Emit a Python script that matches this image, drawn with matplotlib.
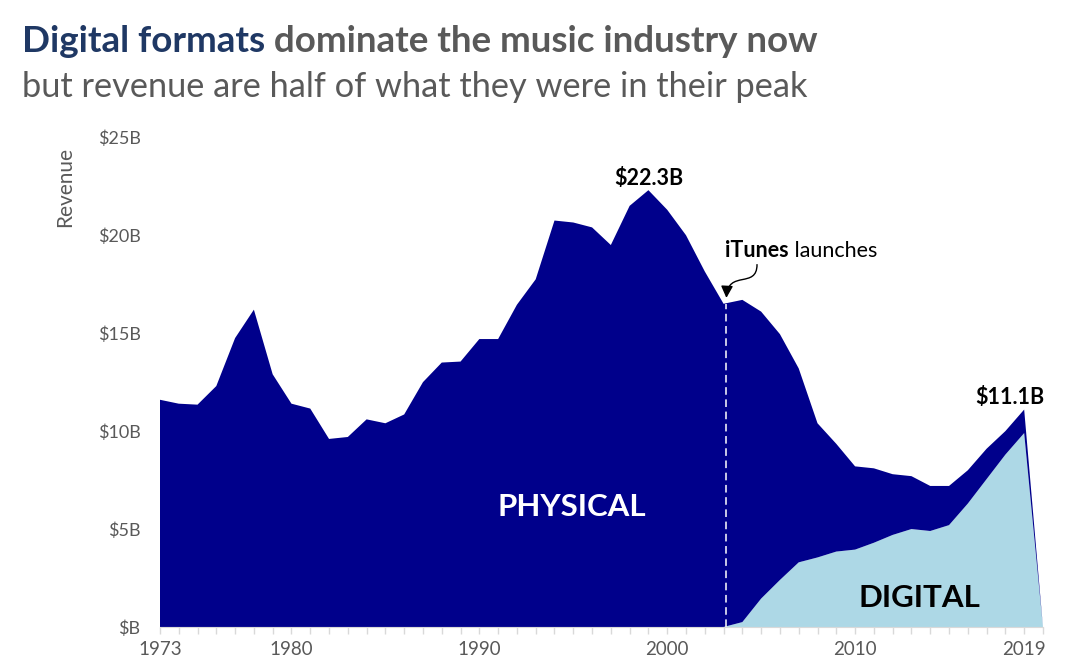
import numpy as np
import matplotlib
matplotlib.use("Agg")
import matplotlib.pyplot as plt
from matplotlib.patches import FancyArrowPatch
from matplotlib.path import Path
from matplotlib.ticker import FuncFormatter, FixedLocator, MultipleLocator

plt.rcParams["font.family"] = ["Lato", "DejaVu Sans"]

# Revenue in billions of US$
years = list(range(1973, 2021))
total_revenue = [
    11.6, 11.4, 11.35, 12.3, 14.75, 16.2, 12.9, 11.4, 11.15, 9.6,
    9.7, 10.6, 10.4, 10.85, 12.5, 13.5, 13.55, 14.7, 14.7, 16.45,
    17.75, 20.75, 20.65, 20.4, 19.5, 21.5, 22.3, 21.3, 20.0, 18.15,
    16.5, 16.7, 16.1, 14.95, 13.2, 10.4, 9.35, 8.2, 8.1, 7.8,
    7.7, 7.2, 7.2, 8.0, 9.1, 10.0, 11.1, 0.0,
]
digital_revenue = [0.0] * 31 + [
    0.25, 1.45, 2.4, 3.3, 3.55, 3.85, 3.95, 4.3, 4.7,
    5.0, 4.9, 5.2, 6.3, 7.55, 8.8, 9.9, 0.0,
]
labeled_years = [1973, 1980, 1990, 2000, 2010, 2019]
itunes_year = 2003

NAVY = "#00008B"
LIGHT = "#ADD8E6"
GRAY = "#595959"
TITLE_BLUE = "#1F3864"

years_arr = np.array(years)
total_arr = np.array(total_revenue)
digital_arr = np.array(digital_revenue)
physical_arr = total_arr - digital_arr

fig = plt.figure(figsize=(10.8, 6.71), dpi=100)
ax = fig.add_axes([0.1481, 0.0656, 0.8176, 0.7298])

ax.stackplot(years_arr, digital_arr, physical_arr, colors=[LIGHT, NAVY], linewidth=0)

ax.set_xlim(1973, 2020)
ax.set_ylim(0, 25)

for side in ["top", "right", "left"]:
    ax.spines[side].set_visible(False)
ax.spines["bottom"].set_color("#D9D9D9")

ax.xaxis.set_major_locator(FixedLocator(labeled_years))
ax.xaxis.set_minor_locator(MultipleLocator(1))
ax.tick_params(axis="x", which="both", length=5, color="#D9D9D9", width=1,
               labelsize=13.5, labelcolor=GRAY, pad=5)
ax.yaxis.set_major_locator(MultipleLocator(5))
ax.yaxis.set_major_formatter(FuncFormatter(lambda v, p: f"${v:.0f}B" if v else "$B"))
ax.tick_params(axis="y", length=0, labelsize=13, labelcolor=GRAY, pad=14)

fig.text(65 / 1080, 1 - 187 / 671, "Revenue", rotation=90, ha="center", va="center",
         fontsize=15, color=GRAY)

# dashed iTunes marker
x_line = itunes_year + 0.15
itunes_total = total_arr[years.index(itunes_year)]
ax.plot([x_line, x_line], [0, itunes_total], color="white", lw=1.1, dashes=(5, 3))

# curved pointer from the label down to the top of the dashed line
arrow_path = Path(
    [(2004.78, 18.5), (2004.78, 17.25), (2003.23, 18.25), (x_line, itunes_total + 0.3)],
    [Path.MOVETO, Path.CURVE4, Path.CURVE4, Path.CURVE4],
)
ax.add_patch(FancyArrowPatch(path=arrow_path, arrowstyle="-|>", mutation_scale=18,
                             color="black", lw=1, transform=ax.transData))
t_it = ax.text(x_line - 0.05, 18.9, "iTunes", fontsize=15.5, fontweight="bold",
               ha="left", va="baseline")
ax.annotate(" launches", xy=(1, 0), xycoords=t_it, fontsize=15.5,
            ha="left", va="bottom")

# peak labels
peak_i = int(np.argmax(total_arr))
ax.annotate(f"${total_arr[peak_i]:.1f}B", xy=(years[peak_i], total_arr[peak_i]),
            xytext=(0, 1), textcoords="offset points", ha="center", va="bottom",
            fontsize=15.5, fontweight="bold")
last_i = years.index(2019)
ax.annotate(f"${total_arr[last_i]:.1f}B", xy=(years[last_i], total_arr[last_i]),
            xytext=(-10, 1), textcoords="offset points", ha="center", va="bottom",
            fontsize=15.5, fontweight="bold")

ax.text(1994.9, 6.1, "PHYSICAL", color="white", fontsize=22.5, fontweight="bold",
        ha="center", va="center")
ax.text(2013.4, 1.5, "DIGITAL", color="black", fontsize=22.5, fontweight="bold",
        ha="center", va="center")

# titles
t1 = fig.text(22 / 1080, 1 - 52 / 671, "Digital formats", fontsize=26.5,
              fontweight="bold", color=TITLE_BLUE, ha="left", va="baseline")
ax.annotate(" dominate the music industry now", xy=(1, 0), xycoords=t1,
            fontsize=26.5, fontweight="bold", color=GRAY, ha="left", va="bottom",
            annotation_clip=False)
fig.text(22 / 1080, 1 - 97 / 671, "but revenue are half of what they were in their peak",
         fontsize=24.75, color=GRAY, ha="left", va="baseline")

fig.savefig("out.png", dpi=100)
